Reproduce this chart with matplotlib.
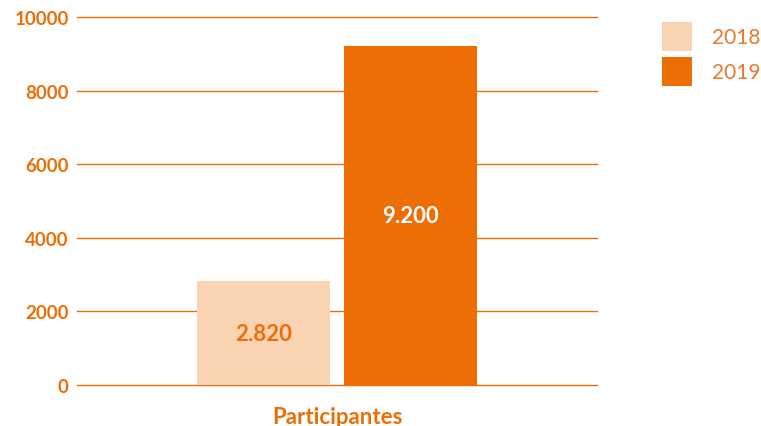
import matplotlib
matplotlib.use("Agg")
import matplotlib.pyplot as plt
import numpy as np

categories = ["Participantes"]
years = ["2018", "2019"]
values_2018 = [2820]
values_2019 = [9200]
bar_labels_2018 = ["2.820"]
bar_labels_2019 = ["9.200"]
yticks = [0, 2000, 4000, 6000, 8000, 10000]

ORANGE = "#EC6E05"
PEACH = "#FAD3B2"
LEG_TXT = "#E8782E"

plt.rcParams['font.family'] = ['Lato', 'DejaVu Sans']

fig = plt.figure(figsize=(7.61, 4.27), dpi=100)
ax = fig.add_axes([77/761, 1-386/427, 520/761, 368/427])

x = np.arange(len(categories))
w = 0.5115
off = 0.2827
b1 = ax.bar(x - off, values_2018, width=w, color=PEACH, label=years[0], zorder=3)
b2 = ax.bar(x + off, values_2019, width=w, color=ORANGE, label=years[1], zorder=3)

for rect, lab in zip(b1, bar_labels_2018):
    ax.text(rect.get_x() + rect.get_width()/2, rect.get_height()/2, lab,
            ha='center', va='center', color=ORANGE, fontsize=16, fontweight='bold', zorder=4)
for rect, lab in zip(b2, bar_labels_2019):
    ax.text(rect.get_x() + rect.get_width()/2, rect.get_height()/2, lab,
            ha='center', va='center', color='white', fontsize=16, fontweight='bold', zorder=4)

ax.set_xlim(-1, 1)
ax.set_ylim(0, 10000)
ax.set_yticks(yticks)
ax.set_yticklabels([str(t) for t in yticks])
ax.set_xticks(x)
ax.set_xticklabels(categories)
ax.tick_params(axis='y', length=0, pad=6, labelsize=13.5, labelcolor=ORANGE)
ax.tick_params(axis='x', length=0, pad=15, labelsize=16, labelcolor=ORANGE)
for lbl in ax.get_yticklabels() + ax.get_xticklabels():
    lbl.set_fontweight('bold')
ax.grid(axis='y', color=ORANGE, linewidth=1.0, zorder=0)
for gl in ax.get_ygridlines():
    gl.set_clip_on(False)
ax.set_axisbelow(True)
for s in ax.spines.values():
    s.set_visible(False)

leg = fig.legend(handles=[b1, b2], labels=years, loc='upper left',
                 bbox_to_anchor=(662/761, 1-23/427), frameon=False,
                 fontsize=15, handlelength=1.45, handleheight=1.75,
                 handletextpad=0.95, labelspacing=0.3, borderaxespad=0,
                 borderpad=0)
for t in leg.get_texts():
    t.set_color(LEG_TXT)

fig.savefig("out.png", dpi=100)
